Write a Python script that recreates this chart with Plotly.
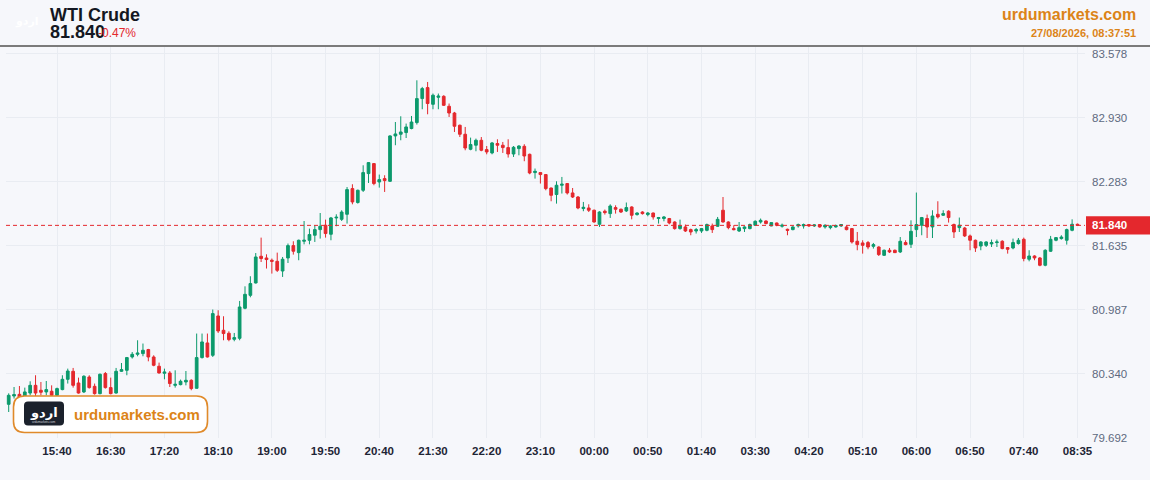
import plotly.graph_objects as go

# ---------------- data ----------------
instrument = "WTI Crude"
last_price_text = "81.840"
change_text = "-0.47%"
site = "urdumarkets.com"
timestamp = "27/08/2026, 08:37:51"

open_ = [80.029, 80.113, 80.130, 80.103, 80.143, 80.221, 80.171, 80.154, 80.161, 80.120,
         80.178, 80.282, 80.363, 80.245, 80.154, 80.305, 80.211, 80.137, 80.340, 80.198,
         80.143, 80.363, 80.373, 80.508, 80.535, 80.542, 80.583, 80.508, 80.414, 80.343,
         80.346, 80.221, 80.228, 80.255, 80.272, 80.191, 80.502, 80.650, 80.525, 80.923,
         80.778, 80.748, 80.687, 80.697, 81.001, 81.132, 81.257, 81.527, 81.510, 81.487,
         81.476, 81.378, 81.510, 81.635, 81.564, 81.679, 81.689, 81.740, 81.797, 81.841,
         81.750, 81.915, 81.901, 81.952, 82.212, 82.071, 82.195, 82.364, 82.465, 82.279,
         82.313, 82.286, 82.745, 82.762, 82.779, 82.820, 82.880, 83.123, 83.234, 83.065,
         83.136, 83.146, 83.045, 82.977, 82.853, 82.762, 82.610, 82.651, 82.701, 82.607,
         82.573, 82.668, 82.651, 82.627, 82.562, 82.617, 82.640, 82.559, 82.374, 82.374,
         82.354, 82.218, 82.152, 82.246, 82.263, 82.168, 82.127, 82.010, 82.016, 81.993,
         81.851, 81.983, 81.959, 82.020, 82.003, 81.986, 82.026, 81.949, 81.975, 81.949,
         81.965, 81.909, 81.909, 81.909, 81.874, 81.807, 81.824, 81.797, 81.783, 81.783,
         81.790, 81.834, 81.831, 81.993, 81.874, 81.807, 81.783, 81.807, 81.807, 81.841,
         81.874, 81.884, 81.834, 81.864, 81.831, 81.800, 81.797, 81.834, 81.834, 81.848,
         81.834, 81.848, 81.824, 81.817, 81.824, 81.834, 81.824, 81.807, 81.679, 81.662,
         81.666, 81.628, 81.621, 81.537, 81.588, 81.588, 81.571, 81.666, 81.648, 81.797,
         81.841, 81.909, 81.824, 81.952, 81.942, 81.983, 81.848, 81.817, 81.813, 81.733,
         81.689, 81.631, 81.638, 81.652, 81.666, 81.679, 81.615, 81.611, 81.656, 81.699,
         81.497, 81.530, 81.510, 81.436, 81.578, 81.689, 81.706, 81.689, 81.790, 81.851]

high = [80.140, 80.204, 80.214, 80.198, 80.262, 80.323, 80.255, 80.265, 80.221, 80.198,
        80.323, 80.390, 80.397, 80.299, 80.323, 80.323, 80.239, 80.340, 80.356, 80.299,
        80.397, 80.447, 80.508, 80.558, 80.677, 80.644, 80.590, 80.525, 80.451, 80.390,
        80.366, 80.373, 80.279, 80.366, 80.282, 80.745, 80.745, 80.745, 80.988, 80.981,
        80.920, 80.768, 80.751, 81.075, 81.223, 81.325, 81.560, 81.716, 81.547, 81.504,
        81.564, 81.520, 81.656, 81.679, 81.696, 81.884, 81.807, 81.841, 81.965, 81.898,
        81.925, 81.952, 81.993, 82.228, 82.256, 82.202, 82.448, 82.480, 82.471, 82.354,
        82.347, 82.752, 82.886, 82.944, 82.870, 82.947, 83.308, 83.241, 83.291, 83.174,
        83.174, 83.157, 83.073, 82.988, 82.860, 82.836, 82.728, 82.718, 82.734, 82.643,
        82.684, 82.711, 82.684, 82.711, 82.643, 82.651, 82.661, 82.566, 82.415, 82.380,
        82.357, 82.222, 82.286, 82.330, 82.269, 82.218, 82.137, 82.077, 82.053, 82.000,
        81.983, 82.000, 82.053, 82.043, 82.010, 82.071, 82.033, 81.972, 81.983, 81.975,
        81.969, 81.925, 81.935, 81.915, 81.881, 81.898, 81.848, 81.807, 81.813, 81.813,
        81.858, 81.858, 81.925, 82.127, 81.881, 81.841, 81.874, 81.831, 81.858, 81.891,
        81.909, 81.891, 81.868, 81.868, 81.858, 81.807, 81.831, 81.858, 81.858, 81.851,
        81.851, 81.851, 81.851, 81.841, 81.848, 81.851, 81.834, 81.813, 81.773, 81.689,
        81.682, 81.662, 81.628, 81.595, 81.611, 81.595, 81.722, 81.689, 81.891, 82.172,
        81.925, 81.949, 81.993, 82.084, 81.993, 81.993, 81.858, 81.919, 81.824, 81.747,
        81.696, 81.679, 81.679, 81.696, 81.696, 81.689, 81.621, 81.706, 81.712, 81.716,
        81.588, 81.537, 81.520, 81.598, 81.733, 81.722, 81.740, 81.807, 81.901, 81.858]

low = [79.951, 80.087, 80.070, 80.070, 80.120, 80.103, 80.120, 80.120, 80.070, 80.103,
       80.171, 80.239, 80.198, 80.137, 80.143, 80.188, 80.127, 80.130, 80.188, 80.130,
       80.137, 80.356, 80.323, 80.492, 80.515, 80.515, 80.464, 80.414, 80.340, 80.282,
       80.204, 80.198, 80.221, 80.221, 80.171, 80.188, 80.492, 80.502, 80.508, 80.751,
       80.677, 80.667, 80.667, 80.677, 80.991, 81.112, 81.251, 81.469, 81.403, 81.352,
       81.368, 81.318, 81.459, 81.544, 81.487, 81.648, 81.648, 81.672, 81.706, 81.716,
       81.689, 81.831, 81.884, 81.858, 82.053, 82.060, 82.178, 82.269, 82.246, 82.222,
       82.178, 82.279, 82.651, 82.701, 82.724, 82.812, 82.860, 83.015, 82.964, 83.015,
       83.015, 83.048, 82.937, 82.785, 82.734, 82.600, 82.600, 82.590, 82.590, 82.559,
       82.559, 82.583, 82.573, 82.526, 82.532, 82.549, 82.489, 82.357, 82.313, 82.263,
       82.195, 82.084, 82.060, 82.162, 82.152, 82.117, 82.003, 81.983, 81.975, 81.868,
       81.824, 81.949, 81.915, 81.959, 81.965, 81.975, 81.901, 81.939, 81.949, 81.932,
       81.898, 81.858, 81.881, 81.851, 81.797, 81.797, 81.773, 81.740, 81.757, 81.763,
       81.780, 81.763, 81.824, 81.868, 81.800, 81.790, 81.773, 81.773, 81.800, 81.834,
       81.858, 81.851, 81.831, 81.831, 81.817, 81.740, 81.790, 81.817, 81.807, 81.824,
       81.824, 81.817, 81.807, 81.800, 81.817, 81.824, 81.790, 81.656, 81.588, 81.554,
       81.598, 81.605, 81.530, 81.530, 81.560, 81.560, 81.560, 81.638, 81.611, 81.722,
       81.740, 81.712, 81.712, 81.909, 81.935, 81.868, 81.712, 81.773, 81.722, 81.588,
       81.571, 81.588, 81.621, 81.621, 81.621, 81.598, 81.554, 81.598, 81.645, 81.476,
       81.476, 81.487, 81.426, 81.426, 81.571, 81.679, 81.696, 81.645, 81.780, 81.834]

close = [80.120, 80.127, 80.100, 80.154, 80.221, 80.143, 80.151, 80.178, 80.120, 80.188,
         80.282, 80.366, 80.221, 80.143, 80.313, 80.198, 80.137, 80.333, 80.198, 80.137,
         80.363, 80.380, 80.502, 80.535, 80.548, 80.576, 80.508, 80.424, 80.346, 80.356,
         80.239, 80.231, 80.262, 80.272, 80.188, 80.502, 80.660, 80.508, 80.947, 80.771,
         80.745, 80.684, 80.704, 81.014, 81.142, 81.251, 81.520, 81.504, 81.494, 81.476,
         81.385, 81.497, 81.635, 81.578, 81.689, 81.689, 81.747, 81.797, 81.831, 81.757,
         81.915, 81.922, 81.975, 82.202, 82.077, 82.195, 82.374, 82.475, 82.263, 82.303,
         82.293, 82.745, 82.765, 82.785, 82.836, 82.886, 83.123, 83.224, 83.073, 83.157,
         83.149, 83.055, 82.977, 82.843, 82.762, 82.623, 82.658, 82.701, 82.600, 82.583,
         82.674, 82.651, 82.627, 82.562, 82.630, 82.643, 82.542, 82.370, 82.387, 82.354,
         82.212, 82.144, 82.246, 82.256, 82.168, 82.127, 82.016, 82.023, 81.993, 81.874,
         81.975, 81.969, 82.036, 82.003, 81.975, 82.020, 81.942, 81.965, 81.959, 81.965,
         81.925, 81.919, 81.925, 81.864, 81.807, 81.834, 81.783, 81.773, 81.797, 81.807,
         81.848, 81.797, 81.901, 81.874, 81.817, 81.797, 81.817, 81.824, 81.848, 81.881,
         81.891, 81.858, 81.868, 81.841, 81.841, 81.790, 81.824, 81.848, 81.848, 81.834,
         81.844, 81.824, 81.841, 81.834, 81.838, 81.848, 81.797, 81.672, 81.645, 81.638,
         81.621, 81.645, 81.544, 81.588, 81.571, 81.564, 81.679, 81.645, 81.780, 81.848,
         81.919, 81.824, 81.935, 81.925, 81.959, 81.919, 81.773, 81.841, 81.733, 81.689,
         81.611, 81.672, 81.672, 81.666, 81.672, 81.605, 81.598, 81.666, 81.689, 81.504,
         81.530, 81.510, 81.436, 81.588, 81.699, 81.716, 81.722, 81.797, 81.851, 81.840]

time_labels = ["15:40", "16:30", "17:20", "18:10", "19:00", "19:50", "20:40", "21:30",
               "22:20", "23:10", "00:00", "00:50", "01:40", "03:30", "04:20", "05:10",
               "06:00", "06:50", "07:40", "08:35"]
price_ticks = [79.692, 80.340, 80.987, 81.635, 82.283, 82.930, 83.578]

# ---------------- layout helpers ----------------
W, H = 1150, 480
ML, MR, MT, MB = 6, 65, 47, 42
PW, PH = W - ML - MR, H - MT - MB


def px(x):
    return (x - ML) / PW


def py(y):
    return (H - MB - y) / PH


def rrect(x0, y0, x1, y1, r):
    # rounded rectangle path in paper coords, from pixel box
    pts = [
        f"M {px(x0 + r)},{py(y0)}",
        f"L {px(x1 - r)},{py(y0)}",
        f"Q {px(x1)},{py(y0)} {px(x1)},{py(y0 + r)}",
        f"L {px(x1)},{py(y1 - r)}",
        f"Q {px(x1)},{py(y1)} {px(x1 - r)},{py(y1)}",
        f"L {px(x0 + r)},{py(y1)}",
        f"Q {px(x0)},{py(y1)} {px(x0)},{py(y1 - r)}",
        f"L {px(x0)},{py(y0 + r)}",
        f"Q {px(x0)},{py(y0)} {px(x0 + r)},{py(y0)}",
        "Z",
    ]
    return " ".join(pts)


BG = "#f6f7fb"
GRID = "#e9ecf2"
UP = "#0c9a6c"
DOWN = "#e4282d"
ORANGE = "#dc8418"
FONT = "Liberation Sans, Arial, sans-serif"

idx = list(range(len(close)))
tick_idx = [len(close) - 1 - 10 * (len(time_labels) - 1 - k) for k in range(len(time_labels))]

fig = go.Figure()
fig.add_trace(go.Candlestick(
    x=idx, open=open_, high=high, low=low, close=close,
    increasing=dict(line=dict(color=UP, width=1), fillcolor=UP),
    decreasing=dict(line=dict(color=DOWN, width=1), fillcolor=DOWN),
    whiskerwidth=0, hoverinfo="skip", showlegend=False,
))

last = close[-1]
shapes = [
    # last price dashed line
    dict(type="line", xref="paper", yref="y", x0=0, x1=1, y0=last, y1=last,
         line=dict(color=DOWN, width=1, dash="4px,3px"), layer="above"),
    # last price label box
    dict(type="rect", xref="paper", yref="y", x0=px(1086), x1=px(1150),
         y0=last - 0.092, y1=last + 0.092, fillcolor=DOWN, line=dict(width=0)),
    # header separator
    dict(type="line", xref="paper", yref="paper", x0=px(0), x1=px(1150),
         y0=py(46), y1=py(46), line=dict(color="#7b7b7b", width=2)),
    # watermark box
    dict(type="path", xref="paper", yref="paper", path=rrect(13.5, 396, 207.5, 432.5, 11),
         fillcolor="#ffffff", line=dict(color="#e08a2a", width=1.6), layer="above"),
    dict(type="path", xref="paper", yref="paper", path=rrect(24, 401.5, 64, 425.5, 4),
         fillcolor="#1b212c", line=dict(width=0), layer="above"),
]

annotations = [
    dict(text=f"<b>{instrument}</b>", x=px(48), y=py(15), xref="paper", yref="paper",
         xanchor="left", yanchor="middle", showarrow=False,
         font=dict(family=FONT, size=18, color="#131722")),
    dict(text=f"<b>{last_price_text}</b>", x=px(48), y=py(32), xref="paper", yref="paper",
         xanchor="left", yanchor="middle", showarrow=False,
         font=dict(family=FONT, size=18, color="#131722")),
    dict(text=change_text, x=px(96), y=py(33), xref="paper", yref="paper",
         xanchor="left", yanchor="middle", showarrow=False,
         font=dict(family=FONT, size=12, color=DOWN)),
    dict(text=f"<b>{site}</b>", x=px(1138), y=py(14.5), xref="paper", yref="paper",
         xanchor="right", yanchor="middle", showarrow=False,
         font=dict(family=FONT, size=16, color=ORANGE)),
    dict(text=f"<b>{timestamp}</b>", x=px(1138), y=py(32.5), xref="paper", yref="paper",
         xanchor="right", yanchor="middle", showarrow=False,
         font=dict(family=FONT, size=11, color=ORANGE)),
    # faint logo top-left
    dict(text="<b>اردو</b>", x=px(27), y=py(21), xref="paper", yref="paper",
         xanchor="center", yanchor="middle", showarrow=False,
         font=dict(family="Noto Sans, DejaVu Sans", size=11, color="#ffffff")),
    # last price label
    dict(text=f"<b>{last:.3f}</b>", x=px(1090), y=last, xref="paper", yref="y",
         xanchor="left", yanchor="middle", showarrow=False,
         font=dict(family=FONT, size=11.5, color="#ffffff")),
    # watermark texts
    dict(text="<b>اردو</b>", x=px(44), y=py(411.5), xref="paper", yref="paper",
         xanchor="center", yanchor="middle", showarrow=False,
         font=dict(family="Noto Sans, DejaVu Sans", size=13, color="#ffffff")),
    dict(text="urdumarkets.com", x=px(44), y=py(421.5), xref="paper", yref="paper",
         xanchor="center", yanchor="middle", showarrow=False,
         font=dict(family=FONT, size=3, color="#cfd3da")),
    dict(text=f"<b>{site}</b>", x=px(72), y=py(414), xref="paper", yref="paper",
         xanchor="left", yanchor="middle", showarrow=False,
         font=dict(family=FONT, size=15, color=ORANGE)),
]

fig.update_layout(
    width=W, height=H,
    margin=dict(l=ML, r=MR, t=MT, b=MB),
    paper_bgcolor=BG, plot_bgcolor=BG,
    shapes=shapes, annotations=annotations,
    boxgap=0.28,
    showlegend=False,
    hovermode=False,
    xaxis=dict(
        range=[-0.5, 200.4], rangeslider=dict(visible=False),
        tickmode="array", tickvals=tick_idx, ticktext=time_labels,
        tickfont=dict(family=FONT, size=11.5, color="#1e2535", weight="bold"),
        showgrid=True, gridcolor=GRID, gridwidth=1, zeroline=False,
        showline=False, ticks="", ticklabelstandoff=4, fixedrange=True,
    ),
    yaxis=dict(
        side="right", range=[79.688, 83.645],
        tickmode="array", tickvals=price_ticks,
        ticktext=[f"{v:.3f}" for v in price_ticks],
        tickfont=dict(family=FONT, size=11.5, color="#5e6a7f"),
        showgrid=True, gridcolor=GRID, gridwidth=1, zeroline=False,
        showline=False, ticks="", ticklabelstandoff=6, fixedrange=True,
    ),
)

fig.write_html(
    "out.html",
    config={"displayModeBar": False, "staticPlot": True},
    post_script="document.body.style.margin='0px';document.body.style.background='#f6f7fb';",
)
